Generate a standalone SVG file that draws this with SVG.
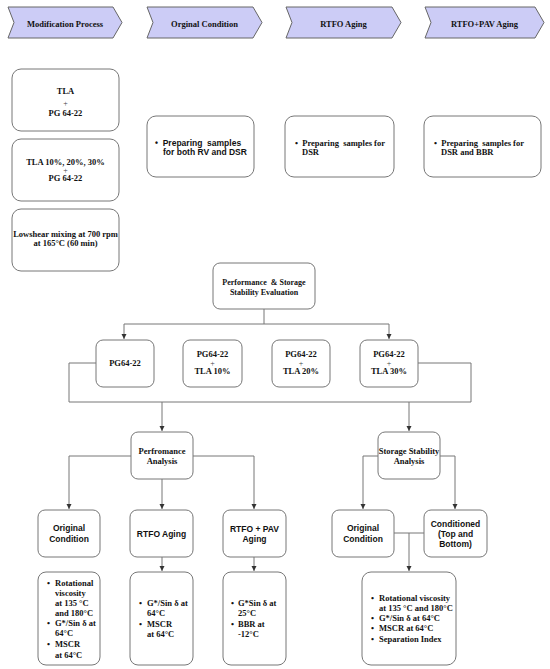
<svg xmlns="http://www.w3.org/2000/svg" width="550" height="669" viewBox="0 0 550 669">
<defs>
<marker id="ah" markerWidth="6" markerHeight="6" refX="5" refY="3" orient="auto" markerUnits="userSpaceOnUse">
<path d="M0,0.5 L5,3 L0,5.5 Z" fill="#333"/>
</marker>
<style>
.chev{fill:#ccccf6;stroke:#666;stroke-width:1;stroke-linejoin:round}
.box{fill:#fff;stroke:#777;stroke-width:1}
.ser{font-family:"Liberation Serif","Times New Roman",serif;font-weight:bold;font-size:8.5px;fill:#111;white-space:pre}
.san{font-family:"Liberation Sans",Arial,sans-serif;font-weight:bold;font-size:8.5px;fill:#111;white-space:pre}
.plus{font-family:"Liberation Serif",serif;font-size:8px;fill:#444}
.mid{text-anchor:middle}
.con{fill:none;stroke:#777;stroke-width:1}
</style>
</defs>
<rect width="550" height="669" fill="#fff"/>

<g id="stage-modification">
<path class="chev" d="M8,7 L113,7 L122,22.5 L113,38 L8,38 L14,22.5 Z"/>
<text class="ser mid" x="65" y="27">Modification Process</text>
</g>
<g id="stage-original">
<path class="chev" d="M147,7 L253,7 L262,22.5 L253,38 L147,38 L153,22.5 Z"/>
<text class="ser mid" x="204.5" y="27">Orginal Condition</text>
</g>
<g id="stage-rtfo">
<path class="chev" d="M286,7 L392,7 L401,22.5 L392,38 L286,38 L292,22.5 Z"/>
<text class="ser mid" x="343.5" y="27">RTFO Aging</text>
</g>
<g id="stage-rtfopav">
<path class="chev" d="M425,7 L535,7 L544,22.5 L535,38 L425,38 L431,22.5 Z"/>
<text class="ser mid" x="484.5" y="27">RTFO+PAV Aging</text>
</g>

<g id="mod-tla">
<rect class="box" x="12" y="69" width="107" height="62" rx="9"/>
<text class="ser mid" x="65.5" y="94">TLA</text>
<text class="plus mid" x="65.5" y="106">+</text>
<text class="ser mid" x="65.5" y="116">PG 64-22</text>
</g>
<g id="mod-tla-pct">
<rect class="box" x="12" y="139" width="107" height="62" rx="9"/>
<text class="ser mid" x="65.5" y="165">TLA 10%, 20%, 30%</text>
<text class="plus mid" x="65.5" y="172.5">+</text>
<text class="ser mid" x="65.5" y="181">PG 64-22</text>
</g>
<g id="mod-mixing">
<rect class="box" x="12" y="209" width="107" height="62" rx="9"/>
<text class="ser mid" x="65.5" y="237">Lowshear mixing at 700 rpm</text>
<text class="ser mid" x="65.5" y="246">at 165°C (60 min)</text>
</g>

<g id="prep-original">
<rect class="box" x="147" y="116" width="107" height="61" rx="9"/>
<text class="san" x="155" y="146" xml:space="preserve">•  Preparing  samples</text>
<text class="san" x="163" y="155">for both RV and DSR</text>
</g>
<g id="prep-rtfo">
<rect class="box" x="285" y="116" width="109" height="61" rx="9"/>
<text class="ser" x="295" y="146" xml:space="preserve">•  Preparing  samples for</text>
<text class="ser" x="302" y="155">DSR</text>
</g>
<g id="prep-rtfopav">
<rect class="box" x="424" y="116" width="117" height="61" rx="9"/>
<text class="ser" x="434" y="146" xml:space="preserve">•  Preparing  samples for</text>
<text class="ser" x="441" y="155">DSR and BBR</text>
</g>

<g id="evaluation">
<rect class="box" x="213" y="263" width="102" height="46" rx="7"/>
<text class="ser mid" x="264" y="285" style="font-size:8px" xml:space="preserve">Performance  &amp; Storage</text>
<text class="ser mid" x="264" y="295" style="font-size:8px">Stability Evaluation</text>
</g>

<g id="pg64">
<rect class="box" x="96" y="340" width="58" height="47" rx="7"/>
<text class="ser mid" x="125" y="366">PG64-22</text>
</g>
<g id="pg64-tla10">
<rect class="box" x="183" y="340" width="59" height="47" rx="7"/>
<text class="ser mid" x="212.5" y="357">PG64-22</text>
<text class="plus mid" x="212.5" y="365.5">+</text>
<text class="ser mid" x="212.5" y="374">TLA 10%</text>
</g>
<g id="pg64-tla20">
<rect class="box" x="272" y="340" width="58" height="47" rx="7"/>
<text class="ser mid" x="301" y="357">PG64-22</text>
<text class="plus mid" x="301" y="365.5">+</text>
<text class="ser mid" x="301" y="374">TLA 20%</text>
</g>
<g id="pg64-tla30">
<rect class="box" x="360" y="340" width="58" height="47" rx="7"/>
<text class="ser mid" x="389" y="357">PG64-22</text>
<text class="plus mid" x="389" y="365.5">+</text>
<text class="ser mid" x="389" y="374">TLA 30%</text>
</g>

<g id="performance-analysis">
<rect class="box" x="131" y="432" width="62" height="47" rx="7"/>
<text class="ser mid" x="162" y="454">Perfromance</text>
<text class="ser mid" x="162" y="464">Analysis</text>
</g>
<g id="storage-analysis">
<rect class="box" x="378" y="432" width="62" height="47" rx="7"/>
<text class="ser mid" x="409" y="454">Storage Stability</text>
<text class="ser mid" x="409" y="464">Analysis</text>
</g>

<g id="pa-original">
<rect class="box" x="38" y="510" width="62" height="47" rx="7"/>
<text class="san mid" x="69" y="531">Original</text>
<text class="san mid" x="69" y="542">Condition</text>
</g>
<g id="pa-rtfo">
<rect class="box" x="130" y="510" width="63" height="47" rx="7"/>
<text class="san mid" x="161.5" y="537">RTFO Aging</text>
</g>
<g id="pa-rtfopav">
<rect class="box" x="223" y="510" width="63" height="47" rx="7"/>
<text class="san mid" x="254.5" y="532">RTFO + PAV</text>
<text class="san mid" x="254.5" y="542">Aging</text>
</g>
<g id="ss-original">
<rect class="box" x="332" y="510" width="62" height="47" rx="7"/>
<text class="san mid" x="363" y="531">Original</text>
<text class="san mid" x="363" y="542">Condition</text>
</g>
<g id="ss-conditioned">
<rect class="box" x="424" y="510" width="63" height="47" rx="7"/>
<text class="san mid" x="455.5" y="527">Conditioned</text>
<text class="san mid" x="455.5" y="537">(Top and</text>
<text class="san mid" x="455.5" y="547">Bottom)</text>
</g>

<g id="pa-original-tests">
<rect class="box" x="38" y="572" width="62" height="93" rx="8"/>
<text class="ser" x="47" y="586">•</text><text class="ser" x="55" y="586">Rotational</text>
<text class="ser" x="55" y="596">viscosity</text>
<text class="ser" x="55" y="606">at 135 °C</text>
<text class="ser" x="55" y="616">and 180°C</text>
<text class="ser" x="47" y="626">•</text><text class="ser" x="55" y="626">G*/Sin δ at</text>
<text class="ser" x="55" y="636">64°C</text>
<text class="ser" x="47" y="647">•</text><text class="ser" x="55" y="647">MSCR</text>
<text class="ser" x="55" y="658">at 64°C</text>
</g>
<g id="pa-rtfo-tests">
<rect class="box" x="130" y="572" width="63" height="93" rx="8"/>
<text class="ser" x="139" y="606">•</text><text class="ser" x="147" y="606">G*/Sin δ at</text>
<text class="ser" x="147" y="616">64°C</text>
<text class="ser" x="139" y="627">•</text><text class="ser" x="147" y="627">MSCR</text>
<text class="ser" x="147" y="637">at 64°C</text>
</g>
<g id="pa-rtfopav-tests">
<rect class="box" x="223" y="572" width="63" height="93" rx="8"/>
<text class="ser" x="231" y="606">•</text><text class="ser" x="238" y="606">G*Sin δ at</text>
<text class="ser" x="238" y="616">25°C</text>
<text class="ser" x="231" y="627">•</text><text class="ser" x="238" y="627">BBR at</text>
<text class="ser" x="238" y="637">-12°C</text>
</g>
<g id="ss-tests">
<rect class="box" x="362" y="572" width="94" height="93" rx="9"/>
<text class="ser" x="371" y="601">•</text><text class="ser" x="379" y="601">Rotational viscosity</text>
<text class="ser" x="379" y="611">at 135 °C and 180°C</text>
<text class="ser" x="371" y="621">•</text><text class="ser" x="379" y="621">G*/Sin δ at 64°C</text>
<text class="ser" x="371" y="631">•</text><text class="ser" x="379" y="631">MSCR at 64°C</text>
<text class="ser" x="371" y="642">•</text><text class="ser" x="379" y="642">Separation Index</text>
</g>

<g id="connectors">
<path class="con" d="M264,309 V324 M124,324 H389"/>
<path class="con" d="M124,324 V339" marker-end="url(#ah)"/>
<path class="con" d="M389,324 V339" marker-end="url(#ah)"/>
<path class="con" d="M96,363 H69 V402 H471 V363 H418"/>
<path class="con" d="M162,402 V431" marker-end="url(#ah)"/>
<path class="con" d="M409,402 V431" marker-end="url(#ah)"/>
<path class="con" d="M131,456 H69 V509" marker-end="url(#ah)"/>
<path class="con" d="M162,479 V509" marker-end="url(#ah)"/>
<path class="con" d="M193,456 H254 V509" marker-end="url(#ah)"/>
<path class="con" d="M378,456 H363 V509" marker-end="url(#ah)"/>
<path class="con" d="M440,456 H455 V509" marker-end="url(#ah)"/>
<path class="con" d="M162,557 V571" marker-end="url(#ah)"/>
<path class="con" d="M254,557 V571" marker-end="url(#ah)"/>
<path class="con" d="M394,533 H424 M409,533 V571" marker-end="url(#ah)"/>
</g>
</svg>
